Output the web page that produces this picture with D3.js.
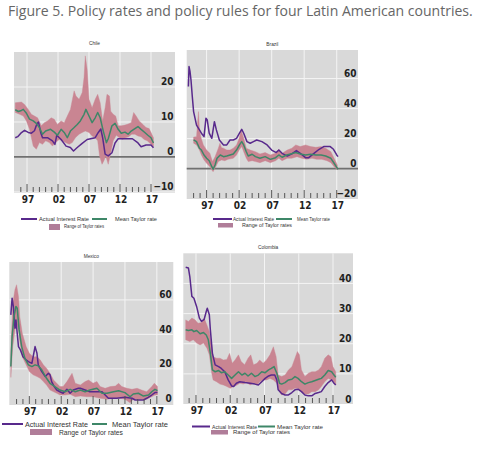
<!DOCTYPE html>
<html><head><meta charset="utf-8">
<script src="https://cdn.jsdelivr.net/npm/d3@7"></script>
<style>body{margin:0;background:#fff}svg{display:block}</style>
</head><body>
<svg id="c" width="483" height="449"></svg>
<script>
// ---------- data (year, value) ----------
const chileActual=[[1995.1,5.5],[1995.5,5.8],[1996.0,6.8],[1996.6,7.6],[1997.2,7.0],[1997.7,6.8],[1998.2,7.5],[1998.6,9.5],[1998.85,10],[1999.2,7],[1999.5,5.5],[2000.3,5.5],[2001.1,4.6],[2001.5,3.6],[2001.8,6.2],[2002.5,5],[2003.3,3.1],[2004,2.7],[2004.5,1.7],[2005.1,2.7],[2005.9,3.9],[2006.7,5],[2008,5.5],[2008.5,7],[2008.9,8],[2009.2,5.5],[2009.6,0.8],[2010.1,0.3],[2010.7,1.2],[2011.2,4],[2011.7,5.2],[2014,5.2],[2014.9,4],[2015.4,2.9],[2016.2,3.4],[2017,3.4],[2017.4,2.6]];
const chileMean=[[1995.1,13.5],[1995.6,13],[1996.1,13.3],[1996.4,13.6],[1996.9,12.5],[1997.4,10.8],[1998,10.3],[1998.5,9.6],[1999,8.4],[1999.5,6.5],[2000,7.4],[2000.8,7.9],[2001.4,7.1],[2001.9,6.2],[2002.5,7.9],[2003,7],[2003.5,5.5],[2004,7.4],[2004.6,8.4],[2005.1,9.3],[2005.6,10.3],[2006.2,12.2],[2006.5,13.6],[2007,11.7],[2007.5,9.8],[2008,11.2],[2008.4,12.7],[2008.8,11.2],[2009.3,7.4],[2009.8,4.1],[2010.1,5.2],[2010.7,8.9],[2011.2,9.6],[2011.7,7.9],[2012.2,6.8],[2012.8,7.1],[2013.3,6.5],[2013.8,7.4],[2014.4,8.1],[2014.9,8.7],[2015.4,7.9],[2016,7],[2016.5,6.2],[2017,5.5],[2017.4,4]];
const chileHigh=[[1995.1,15.5],[1996.1,15.7],[1996.6,15],[1997.2,13.6],[1997.7,12.2],[1998.2,11.7],[1998.7,11.2],[1999.3,8.9],[1999.8,9.8],[2000.3,10.3],[2000.9,11.2],[2001.4,10.8],[2001.9,9.3],[2002.5,10.3],[2003,9.8],[2003.5,11.7],[2004,13.6],[2004.6,18.9],[2004.9,17.4],[2005.4,16.5],[2005.9,18.4],[2006.2,22.7],[2006.4,28.9],[2006.7,25],[2007,16.5],[2007.5,14.1],[2008,16.5],[2008.4,17.9],[2008.8,15.5],[2009.2,10.3],[2009.6,14.1],[2009.9,17.9],[2010.3,17.4],[2010.5,13.1],[2010.9,12.2],[2011.3,11.7],[2011.7,8.9],[2012.2,8.9],[2012.8,9.1],[2013.3,9.4],[2013.8,9.8],[2014.2,12.7],[2014.6,11.7],[2015.1,10.3],[2015.7,9.3],[2016.2,8.4],[2016.7,8.1],[2017.4,5.5]];
const chileLow=[[1995.1,12.7],[1995.8,12.2],[1996.4,11.7],[1996.9,10.3],[1997.4,7.9],[1998,3.1],[1998.5,2.2],[1999,4.1],[1999.5,3.6],[2000,4.6],[2000.6,4.1],[2001.1,3.1],[2001.6,4.1],[2002.2,5],[2002.7,4.6],[2003.2,4.1],[2003.8,3.6],[2004.3,4.1],[2004.8,5.5],[2005.4,6.5],[2005.9,7],[2006.4,7.4],[2007,7],[2007.5,6],[2008,5.5],[2008.4,4.6],[2008.7,0.3],[2009.1,-2.1],[2009.4,-1.1],[2009.7,0.3],[2010.1,-2.1],[2010.4,0.3],[2010.9,4.6],[2011.4,6.2],[2011.9,5.5],[2012.4,5],[2012.9,5.5],[2013.4,5.8],[2013.9,6.5],[2014.4,6.5],[2014.9,6],[2015.4,5.8],[2015.9,5],[2016.4,4.6],[2017.4,3]];

const brazilActual=[[1994.2,54.7],[1994.3,68],[1994.45,64.7],[1994.6,59],[1994.8,48],[1995,38],[1995.45,29],[1995.9,25.8],[1996.2,23.6],[1996.6,21.3],[1996.9,33.6],[1997.1,32.4],[1997.4,23.6],[1997.8,20.2],[1998,25.8],[1998.2,31.3],[1998.5,25.8],[1998.96,19.1],[1999.6,15.8],[2000.1,15.8],[2000.6,19.1],[2001.1,19.1],[2001.6,20.2],[2002.05,23.6],[2002.4,26.2],[2002.7,23.6],[2003.2,18],[2003.7,16.9],[2004.2,18],[2004.7,19.1],[2005.5,18],[2006.3,15.8],[2007,12.4],[2007.7,10.7],[2008.1,12.4],[2008.6,10.2],[2009.4,8.4],[2010.1,9.8],[2010.8,12],[2011.4,10.2],[2012.2,7.3],[2012.7,7.3],[2013.5,10.2],[2014.3,12.9],[2015,14.7],[2016,14.7],[2016.5,12.9],[2017,9.1],[2017.2,8]];
const brazilMean=[[1995,19.1],[1995.45,18],[1995.9,13.6],[1996.2,12.4],[1996.6,9.1],[1997,6.9],[1997.4,5.3],[1997.8,1.3],[1998,-0.4],[1998.3,2.4],[1998.6,6.9],[1999.1,9.1],[1999.6,8],[2000.1,8.4],[2000.6,9.1],[2001.1,9.8],[2001.6,12.4],[2002.05,15.8],[2002.4,18],[2002.7,15.8],[2003.1,11.3],[2003.4,8.4],[2004,9.6],[2004.5,8],[2005.2,6.9],[2006,8],[2006.8,6.2],[2007.6,7.3],[2008.1,9.1],[2008.6,7.6],[2009.3,9.1],[2009.9,9.8],[2010.7,10.7],[2011.4,9.8],[2012.2,9.1],[2013,9.6],[2013.8,9.1],[2014.6,9.1],[2015.3,8.4],[2016.1,6.9],[2016.6,3.6],[2017,0.9],[2017.2,-0.4]];
const brazilHigh=[[1995,21],[1995.45,21.3],[1995.6,30],[1995.75,38],[1995.9,26],[1996.1,21.3],[1996.5,15.8],[1997,12.4],[1997.5,10.2],[1997.9,4.7],[1998.3,8],[1998.8,13.6],[1999.05,16.9],[1999.3,14],[1999.6,13.6],[2000.1,12.4],[2000.6,12.4],[2001.1,13.6],[2001.6,15.8],[2002,20.2],[2002.3,25.8],[2002.7,20.2],[2003.1,13.6],[2003.7,12.4],[2004.5,11.3],[2005.2,9.8],[2006,10.7],[2006.8,9.1],[2007.6,10.2],[2008.1,12.9],[2008.6,10.2],[2009.4,12.4],[2010.1,13.6],[2010.7,15.8],[2011.4,14.7],[2012.2,15.8],[2013,14.7],[2013.8,14.2],[2014.6,14.7],[2015.3,13.6],[2016.1,11.3],[2016.6,6.9],[2017.1,2.4]];
const brazilLow=[[1995,17],[1995.45,15.8],[1995.9,12.4],[1996.2,9.1],[1996.6,5.8],[1997,3.6],[1997.5,1.3],[1997.8,-0.9],[1998,-2],[1998.4,1.3],[1998.8,4.7],[1999.3,5.8],[1999.8,5.3],[2000.3,6.2],[2001.1,6.9],[2001.6,9.1],[2002,12.4],[2002.4,14.7],[2002.7,11.3],[2003.1,6.9],[2003.4,4.7],[2004,5.3],[2004.5,4.7],[2005.2,4],[2006,5.3],[2006.8,4],[2007.6,5.3],[2008.1,6.9],[2008.6,5.3],[2009.4,6.9],[2010.1,6.9],[2010.9,8],[2011.6,6.9],[2012.4,6.2],[2013.2,6.9],[2013.9,6.2],[2014.7,6.2],[2015.5,5.3],[2016.1,4],[2016.6,1.3],[2017.1,-0.9]];

const mexicoActual=[[1994.1,51.3],[1994.3,61],[1994.5,56],[1994.75,43.6],[1994.9,48.4],[1995.1,40.7],[1995.3,32.9],[1995.6,31],[1996,27],[1996.5,25.2],[1996.85,24.2],[1997.4,23.2],[1997.6,27],[1997.9,32.9],[1998.2,29],[1998.4,22.3],[1998.95,18.4],[1999.5,15.5],[2000,17.4],[2000.25,16.5],[2000.5,12.6],[2000.9,9.7],[2001.3,7.7],[2001.8,6.7],[2002.3,5.8],[2002.9,8.1],[2003.4,5.8],[2003.9,7.7],[2004.7,8.7],[2005,8.7],[2005.75,7.7],[2006.5,6.7],[2007.6,6.7],[2008.4,6.7],[2008.9,4.8],[2009.4,2.9],[2010.7,2.9],[2012,3.5],[2013.1,2.9],[2013.6,1.9],[2014.9,1.9],[2015.4,2.9],[2016.2,4.8],[2016.7,6.2],[2017.1,6.2]];
const mexicoMean=[[1994.1,21.3],[1994.3,38.7],[1994.6,50.3],[1994.9,56.2],[1995.1,55.2],[1995.4,42.6],[1995.8,32.9],[1996.3,26.2],[1996.85,22.3],[1997.4,21.3],[1997.9,22.3],[1998.4,21.7],[1998.95,19.4],[1999.7,14.5],[2000.25,11.6],[2001,9.7],[2001.8,7.7],[2002.6,6.7],[2003.4,8.1],[2004.2,6.7],[2005,7.7],[2005.75,6.7],[2006.5,7.7],[2007.6,8.7],[2008.4,5.8],[2009.2,5.8],[2010.2,6.7],[2011,7.3],[2012,6.2],[2012.8,3.8],[2013.3,5.4],[2014.1,5.8],[2014.9,4.2],[2015.7,4.8],[2016.2,6.7],[2016.7,8.1],[2017.1,7.3]];
const mexicoHigh=[[1994.1,30],[1994.4,58],[1994.75,66],[1995,68.8],[1995.3,62],[1995.5,50.3],[1995.9,40.7],[1996.5,32.9],[1997,29],[1997.6,27],[1998.2,27],[1998.7,25.2],[1999.2,22.3],[1999.7,20.3],[2000.25,17.4],[2000.8,13.5],[2001.3,11.6],[2001.8,9.7],[2002.3,9.7],[2002.9,12.6],[2003.7,17.4],[2004.2,11.6],[2005,10.6],[2005.75,12.6],[2006.3,13.5],[2007,11.6],[2007.6,12.6],[2008.1,9.7],[2008.9,8.7],[2009.7,9.7],[2010.5,10],[2011,11.6],[2011.5,9.7],[2012.3,8.7],[2013.1,8.1],[2013.9,8.7],[2014.6,7.7],[2015.4,6.7],[2016.2,9.7],[2016.6,11.6],[2017.1,9.7]];
const mexicoLow=[[1994.1,15],[1994.4,32.9],[1994.75,42.6],[1995,46.5],[1995.3,42.6],[1995.5,35.8],[1995.9,27],[1996.5,22.3],[1997,18.4],[1997.6,16.5],[1998.2,15.5],[1998.7,14.5],[1999.2,12.6],[1999.7,10.6],[2000.25,7.7],[2000.8,6.7],[2001.3,5.8],[2001.8,4.8],[2002.6,4.8],[2003.4,5.2],[2004.2,3.8],[2005,4.2],[2006,3.8],[2007,3.8],[2008.1,2.9],[2009.2,2.3],[2010.2,2.9],[2011.2,2.9],[2012,2.3],[2012.8,0.3],[2013.3,2.3],[2014.4,2.3],[2015.4,2.3],[2016.2,3.8],[2016.7,4.8],[2017.1,4.8]];

const colombiaActual=[[1995.5,45.4],[1995.9,45.1],[1996.1,42.3],[1996.4,35.7],[1996.7,35.1],[1997.1,32.3],[1997.5,28.5],[1997.8,27.4],[1998.2,28.1],[1998.5,30.7],[1998.65,31.8],[1998.95,29.6],[1999.1,24.6],[1999.4,16.8],[1999.8,13],[2000.3,12.4],[2000.7,11.8],[2001.2,10.7],[2001.7,8],[2002.2,6],[2002.5,5.8],[2002.9,6.9],[2003.4,7.4],[2004.15,7.1],[2004.9,6.9],[2005.6,6.6],[2006.1,6.3],[2006.6,7.4],[2007.1,8.5],[2007.6,9.3],[2008,9.6],[2008.5,9.6],[2008.8,8],[2009,4.7],[2009.5,3.5],[2010,3],[2010.5,3],[2011,3.8],[2011.45,4.7],[2011.9,4.9],[2012.4,4.1],[2012.9,3],[2013.4,2.7],[2013.9,2.7],[2014.4,3.5],[2014.9,3.8],[2015.3,4.1],[2015.8,5.8],[2016.3,7.1],[2016.8,8],[2017.15,6.9],[2017.4,6.3]];
const colombiaMean=[[1995.5,24.6],[1995.9,24.4],[1996.4,24.6],[1996.7,24],[1997.1,24.4],[1997.6,23.3],[1998.1,23.7],[1998.5,22.9],[1998.8,21.3],[1999.1,16.8],[1999.4,11.3],[1999.8,10.7],[2000.3,11.1],[2000.7,10.4],[2001.2,10.7],[2001.7,9.6],[2002.2,8.5],[2002.7,9.6],[2003.2,10.7],[2003.7,9.6],[2004.15,10.2],[2004.6,9.3],[2005.1,10.2],[2005.6,9.1],[2006.1,9.6],[2006.6,10.7],[2007.1,10.4],[2007.6,11.3],[2008,11.8],[2008.4,12.4],[2008.8,10.2],[2009.2,6.9],[2009.5,6.6],[2010,7.1],[2010.5,8],[2011,8.2],[2011.45,9.1],[2011.9,8.5],[2012.4,7.4],[2012.9,6.6],[2013.4,7.1],[2013.9,7.4],[2014.4,7.8],[2014.9,8.2],[2015.3,8.5],[2015.8,9.6],[2016.3,11.1],[2016.8,10.7],[2017.15,9.6],[2017.4,8.9]];
const colombiaHigh=[[1995.5,27.9],[1995.9,27.4],[1996.4,28.5],[1996.9,27.9],[1997.3,26.8],[1997.8,27],[1998.2,28.5],[1998.6,26.2],[1998.95,24],[1999.3,19],[1999.5,15.7],[2000,15.2],[2000.5,15.2],[2001,14.6],[2001.5,14.8],[2001.9,16.8],[2002.3,13.5],[2002.7,14.6],[2003.2,16.3],[2003.6,14.1],[2004.1,13],[2004.6,15.2],[2005,16.3],[2005.4,13],[2005.9,13.5],[2006.3,14.6],[2006.8,13.5],[2007.3,14.6],[2007.8,16.3],[2008.3,19],[2008.7,15.7],[2009,9.6],[2009.5,9.1],[2010,9.6],[2010.5,11.3],[2011,12.4],[2011.45,15.2],[2011.8,17.4],[2012.1,16.3],[2012.4,11.3],[2012.9,9.1],[2013.4,10.2],[2013.9,10.7],[2014.4,10.7],[2014.9,11.3],[2015.3,12.4],[2015.8,15.2],[2016.3,16.3],[2016.7,15.7],[2017,12.4],[2017.4,10.7]];
const colombiaLow=[[1995.5,21.3],[1996.1,20.7],[1996.6,21.3],[1997.1,20.2],[1997.6,19.6],[1998.1,20.2],[1998.6,18.5],[1998.95,16.3],[1999.3,10.2],[1999.5,8],[2000,7.4],[2000.5,6.6],[2001,6.3],[2001.5,5.8],[2002,5.2],[2002.5,5.8],[2003,6.3],[2003.4,6.9],[2003.9,6.6],[2004.4,7.1],[2004.9,6.3],[2005.4,6.9],[2005.9,6.3],[2006.3,7.4],[2006.8,8],[2007.3,8],[2007.8,8.5],[2008.3,8],[2008.8,6.9],[2009.2,4.1],[2009.5,3],[2010,3.3],[2010.5,4.7],[2011,4.7],[2011.45,5.2],[2011.9,5.2],[2012.4,4.1],[2012.9,3.3],[2013.4,3.3],[2013.9,4.1],[2014.4,4.1],[2014.9,4.7],[2015.3,5.8],[2015.8,7.4],[2016.3,8.5],[2016.8,8],[2017.15,7.4],[2017.4,6.3]];

const majorYears=[1997,2002,2007,2012,2017];
const majorLabels=["97","02","07","12","17"];
const titleText="Figure 5. Policy rates and policy rules for four Latin American countries.";
const legendLabels=["Actual Interest Rate","Mean Taylor rate","Range of Taylor rates"];

const chileTicks=[-10,0,10,20], brazilTicks=[-20,0,20,40,60], mexicoTicks=[0,20,40,60], colombiaTicks=[0,10,20,30,40];

// ---------- layout ----------
const panels=[
 {name:"Chile",act:chileActual,mean:chileMean,hi:chileHigh,lo:chileLow,ticks:chileTicks,
  box:[14,52,175,193],xd:[1994.9,2020.87],yd:[-10.3,30],zero:true,titleY:45,tfs:4.8,
  leg:{a:[21,37,219],at:[39,221,50],m:[92,107,219],mt:[115,221,42],r:[49,224,11,6],rt:[64,228,40],fs:5}},
 {name:"Brazil",act:brazilActual,mean:brazilMean,hi:brazilHigh,lo:brazilLow,ticks:brazilTicks,
  box:[186.7,50,358,199],xd:[1993.94,2020.27],yd:[-20.2,79],zero:true,titleY:46,tfs:4.8,
  leg:{a:[213,232,219],at:[233,221,41],m:[276,292,219],mt:[297,221,33],r:[218,223,15,4.5],rt:[242,227,50],fs:4.5}},
 {name:"Mexico",act:mexicoActual,mean:mexicoMean,hi:mexicoHigh,lo:mexicoLow,ticks:mexicoTicks,
  box:[9.3,262,173.3,405],xd:[1993.86,2019.58],yd:[-1,82],zero:false,titleY:258,tfs:4.8,
  leg:{a:[2,23,424],at:[25,426.5,63],m:[92,107,424],mt:[112,426.5,56],r:[30,429,22,6],rt:[59,434.5,64],fs:6.3}},
 {name:"Colombia",act:colombiaActual,mean:colombiaMean,hi:colombiaHigh,lo:colombiaLow,ticks:colombiaTicks,
  box:[183.3,253.3,353,404],xd:[1995.15,2019.92],yd:[0,50],zero:false,titleY:249,tfs:4.8,
  leg:{a:[192,210,426.5],at:[212,428.5,45],m:[258,275,426.5],mt:[277,428.5,46],r:[211,430,17,4.5],rt:[233,434,57],fs:5}}
];

const C={bg:"#d9d9d9",grid:"#f4f4f4",zero:"#707070",band:"#c98592",act:"#58298c",mean:"#3e8768",legBand:"#b07d99",txt:"#222"};
const numFont="'Liberation Sans Narrow','Arial Narrow','DejaVu Sans Condensed',sans-serif";
const svg=d3.select("#c");

// title
const t=svg.append("text").attr("x",8).attr("y",16).attr("fill","#666")
  .style("font-family","'Open Sans',sans-serif").style("font-size","13px").text(titleText);
const tw=t.node().getComputedTextLength();
t.style("font-size",(13*465/tw).toFixed(2)+"px");

panels.forEach(p=>{
  const [x0,y0,x1,y1]=p.box;
  const x=d3.scaleLinear().domain(p.xd).range([x0,x1]);
  const y=d3.scaleLinear().domain(p.yd).range([y1,y0]);
  const g=svg.append("g");
  g.append("rect").attr("x",x0).attr("y",y0).attr("width",x1-x0).attr("height",y1-y0).attr("fill",C.bg);
  // horizontal grid
  g.selectAll(".hg").data(p.ticks.filter(v=>v!==0 && y(v)>y0+1 && y(v)<y1-1)).join("line")
    .attr("x1",x0).attr("x2",x1).attr("y1",d=>y(d)).attr("y2",d=>y(d))
    .attr("stroke",C.grid).attr("stroke-width",1);
  // vertical grid
  g.selectAll(".vg").data(majorYears).join("line")
    .attr("x1",d=>x(d)).attr("x2",d=>x(d)).attr("y1",y0).attr("y2",y1)
    .attr("stroke",C.grid).attr("stroke-width",1);
  if(p.zero){
    g.append("line").attr("x1",x0).attr("x2",x1).attr("y1",y(0)).attr("y2",y(0))
      .attr("stroke",C.zero).attr("stroke-width",1.8);
  }
  // band
  const pts=p.hi.map(d=>[x(d[0]),y(d[1])]).concat(p.lo.slice().reverse().map(d=>[x(d[0]),y(d[1])]));
  g.append("path").attr("d",d3.line()(pts)+"Z").attr("fill",C.band).attr("stroke",C.band).attr("stroke-width",0.4);
  const ln=d3.line().x(d=>x(d[0])).y(d=>y(d[1]));
  g.append("path").attr("d",ln(p.act)).attr("fill","none").attr("stroke",C.act).attr("stroke-width",1.5).attr("stroke-linejoin","round");
  g.append("path").attr("d",ln(p.mean)).attr("fill","none").attr("stroke",C.mean).attr("stroke-width",1.5).attr("stroke-linejoin","round");
  // year ticks
  const yrs=d3.range(1994,2018).filter(v=>v>=p.xd[0]+0.6);
  g.selectAll(".tk").data(yrs).join("line")
    .attr("x1",d=>x(d)).attr("x2",d=>x(d))
    .attr("y1",y1-1).attr("y2",d=>y1-1-(majorYears.includes(d)?8:5))
    .attr("stroke","#555").attr("stroke-width",1);
  // x labels
  g.selectAll(".xl").data(majorYears).join("text")
    .attr("x",d=>x(d)+1).attr("y",y1+10).attr("text-anchor","middle")
    .attr("fill",C.txt).style("font-family",numFont).style("font-weight","bold").style("font-size","10px")
    .text((d,i)=>majorLabels[i]);
  // y labels
  g.selectAll(".yl").data(p.ticks).join("text")
    .attr("x",x1-1.5).attr("y",d=>y(d)-1.5).attr("text-anchor","end")
    .attr("fill",C.txt).style("font-family",numFont).style("font-weight","bold").style("font-size","10px")
    .text(d=>d<0?"\u2212"+Math.abs(d):String(d));
  // panel title
  g.append("text").attr("x",(x0+x1)/2).attr("y",p.titleY).attr("text-anchor","middle")
    .attr("fill","#333").style("font-family","'Liberation Sans',sans-serif").style("font-size",p.tfs+"px").text(p.name);
  // legend
  const L=p.leg, lf="'Liberation Sans',sans-serif";
  g.append("line").attr("x1",L.a[0]).attr("x2",L.a[1]).attr("y1",L.a[2]).attr("y2",L.a[2]).attr("stroke",C.act).attr("stroke-width",2);
  g.append("line").attr("x1",L.m[0]).attr("x2",L.m[1]).attr("y1",L.m[2]).attr("y2",L.m[2]).attr("stroke",C.mean).attr("stroke-width",2);
  g.append("rect").attr("x",L.r[0]).attr("y",L.r[1]).attr("width",L.r[2]).attr("height",L.r[3]).attr("fill",C.legBand);
  [[L.at,0],[L.mt,1],[L.rt,2]].forEach(([a,i])=>{
    g.append("text").attr("x",a[0]).attr("y",a[1]).attr("fill","#333")
      .attr("textLength",a[2]).attr("lengthAdjust","spacingAndGlyphs")
      .style("font-family",lf).style("font-size",L.fs+"px").text(legendLabels[i]);
  });
});
</script>
</body></html>
